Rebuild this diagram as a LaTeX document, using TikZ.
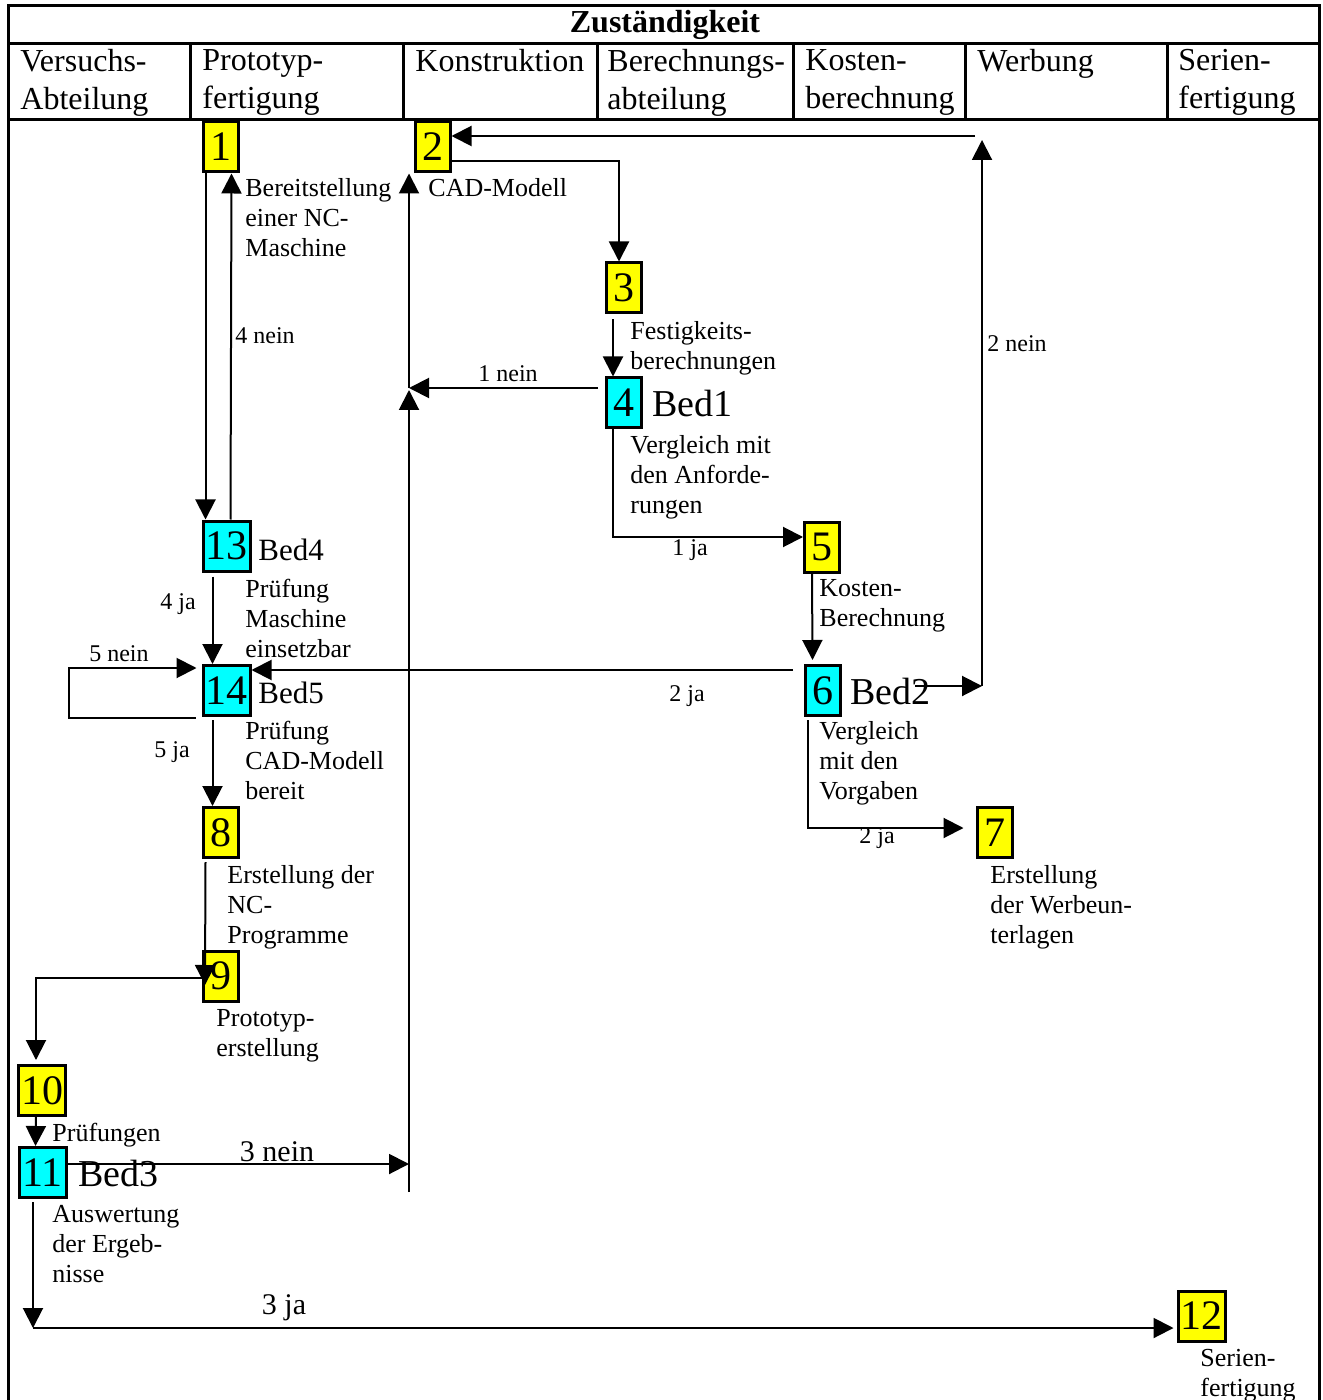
\documentclass[tikz,border=0pt]{standalone}
\usepackage{fontspec}
\setmainfont{Liberation Serif}
\usetikzlibrary{arrows.meta}
\definecolor{boxyellow}{RGB}{255,255,0}
\definecolor{boxcyan}{RGB}{0,255,255}
\begin{document}
\begin{tikzpicture}[x=0.5pt,y=-0.5pt,
    box/.style={draw,line width=1.5pt,inner sep=0pt,minimum width=17.5pt,minimum height=25pt,font=\fontsize{21}{21}\selectfont},
    act/.style={box,fill=boxyellow},
    cond/.style={box,fill=boxcyan},
    wide/.style={minimum width=23.5pt},
    desc/.style={anchor=north west,inner sep=0pt,align=left,font=\fontsize{13}{15}\selectfont},
    head/.style={anchor=north west,inner sep=0pt,align=left,font=\fontsize{16}{19}\selectfont},
    lbl/.style={inner sep=0pt,font=\fontsize{12}{14}\selectfont},
    biglbl/.style={inner sep=0pt,font=\fontsize{15}{17}\selectfont},
    bed/.style={anchor=west,inner sep=0pt,font=\fontsize{19}{19}\selectfont},
    flow/.style={line width=1pt,-{Triangle[length=10pt,width=10pt]}},
    frame/.style={line width=1.5pt}]
    \useasboundingbox (0,0) rectangle (1322,1400);
    \draw[frame] (8,1400) -- (8,6) -- (1319,6) -- (1319,1400);
    \draw[frame] (8,44) -- (1319,44);
    \draw[frame] (8,120) -- (1319,120);
    \foreach \cx in {190,403,597,793,965,1167}
        \draw[frame] (\cx,44) -- (\cx,120);
    \node[font=\fontsize{16}{19}\selectfont\bfseries] (title) at (665,25) {Zuständigkeit};
    \node[head] (h1) at (20,49) {Versuchs-\\Abteilung};
    \node[head] (h2) at (202,49) {Prototyp-\\fertigung};
    \node[head] (h3) at (415,49) {Konstruktion};
    \node[head] (h4) at (607,49) {Berechnungs-\\abteilung};
    \node[head] (h5) at (805,49) {Kosten-\\berechnung};
    \node[head] (h6) at (977,49) {Werbung};
    \node[head] (h7) at (1178,49) {Serien-\\fertigung};

    \node[act] (b1) at (220.5,147) {1};
    \node[act] (b2) at (432.5,147) {2};
    \node[act] (b3) at (624,288) {3};
    \node[cond] (b4) at (624,403) {4};
    \node[cond,wide] (b13) at (226.5,546) {13};
    \node[act] (b5) at (822,547) {5};
    \node[cond,wide] (b14) at (226.5,690.5) {14};
    \node[cond] (b6) at (822.5,690.5) {6};
    \node[act] (b8) at (220.5,832.5) {8};
    \node[act] (b7) at (994.5,832.5) {7};
    \node[act] (b9) at (220.5,976) {9};
    \node[act,wide] (b10) at (42,1090.5) {10};
    \node[cond,wide] (b11) at (42.5,1172.5) {11};
    \node[act,wide] (b12) at (1201.5,1316) {12};

    \node[bed] (bed1) at (652,404) {Bed1};
    \node[bed,font=\fontsize{15.5}{15.5}\selectfont] (bed4) at (258,550) {Bed4};
    \node[bed,font=\fontsize{15.5}{15.5}\selectfont] (bed5) at (258,693) {Bed5};
    \node[bed] (bed2) at (850,691) {Bed2};
    \node[bed] (bed3) at (78,1173) {Bed3};

    \node[desc] (d1) at (245,178) {Bereitstellung\\einer NC-\\Maschine};
    \node[desc] (d2) at (428,178) {CAD-Modell};
    \node[desc] (d3) at (630,321) {Festigkeits-\\berechnungen};
    \node[desc] (d4) at (630,435) {Vergleich mit\\den Anforde-\\rungen};
    \node[desc] (d13) at (245,579) {Prüfung\\Maschine\\einsetzbar};
    \node[desc] (d5) at (819,579) {Kosten-\\Berechnung};
    \node[desc] (d14) at (245,721) {Prüfung\\CAD-Modell\\bereit};
    \node[desc] (d6) at (819,721) {Vergleich\\mit den\\Vorgaben};
    \node[desc] (d8) at (227,865) {Erstellung der\\NC-\\Programme};
    \node[desc] (d7) at (990,865) {Erstellung\\der Werbeun-\\terlagen};
    \node[desc] (d9) at (216,1009) {Prototyp-\\erstellung};
    \node[desc] (d10) at (52,1123) {Prüfungen};
    \node[desc] (d11) at (52,1205) {Auswertung\\der Ergeb-\\nisse};
    \node[desc] (d12) at (1200,1349) {Serien-\\fertigung};

    \node[lbl,anchor=west] (l4n) at (235,336) {4 nein};
    \node[lbl] (l1n) at (508,374) {1 nein};
    \node[lbl,anchor=west] (l2n) at (987,344) {2 nein};
    \node[lbl] (l1j) at (690,550) {1 ja};
    \node[lbl] (l4j) at (178,604) {4 ja};
    \node[lbl] (l5n) at (119,654) {5 nein};
    \node[lbl] (l2ja) at (687,696) {2 ja};
    \node[lbl] (l5j) at (172,752) {5 ja};
    \node[lbl] (l2jb) at (877,838) {2 ja};
    \node[biglbl] (l3n) at (277,1152) {3 nein};
    \node[biglbl] (l3j) at (284,1308) {3 ja};

    \coordinate (n2a) at (915,686);
    \coordinate (n2b) at (982,686);
    \coordinate (n2c) at (982,140);
    \coordinate (n2d) at (975,136);
    \draw[flow] (n2a) -- (n2b);
    \draw[flow] (n2b) -- (n2c);
    \draw[flow] (n2d) -- (b2.east |- n2d);

    \coordinate (k23) at (619,161);
    \draw[flow] (b2.east |- k23) -- (k23) -- (k23 |- b3.north);
    \draw[flow] ([xshift=-5.5pt,yshift=-2.5pt]b3.south) -- ([xshift=-5.5pt]b4.north);

    \coordinate (kv) at (409,388);
    \coordinate (kbot) at (409,1192);
    \coordinate (kmid) at (409,390);
    \draw[flow] ([xshift=-3.5pt]b4.west |- kv) -- (kv);
    \draw[flow] (kbot) -- (kmid);
    \draw[flow] (kv) -- (kv |- b2.south);

    \coordinate (k45) at (613,537);
    \draw[flow] (k45 |- b4.south) -- (k45) -- (b5.west |- k45);
    \draw[flow] ([xshift=-5pt]b5.south) -- ([xshift=-5pt,yshift=2pt]b6.north);
    \coordinate (k2j) at (793,670);
    \draw[flow] (k2j) -- (b14.east |- k2j);

    \coordinate (k67) at (808,828);
    \draw[flow] ([yshift=-1.5pt]k67 |- b6.south) -- (k67) -- ([xshift=-6pt]b7.west |- k67);

    \draw[flow] ([xshift=-7.5pt]b1.south) -- ([xshift=-10.5pt]b13.north);
    \draw[flow] ([xshift=2pt]b13.north) -- ([xshift=5.5pt]b1.south);
    \draw[flow] ([xshift=-7pt,yshift=-2pt]b13.south) -- ([xshift=-7pt]b14.north);

    \coordinate (k5a) at (69,718);
    \coordinate (k5b) at (69,668);
    \draw[flow] ([xshift=-3pt]b14.west |- k5a) -- (k5a) -- (k5b) -- ([xshift=-2.5pt]b14.west |- k5b);
    \draw[flow] ([xshift=-7pt,yshift=-1.5pt]b14.south) -- ([xshift=-4pt]b8.north);

    \draw[flow] ([xshift=-7.5pt,yshift=-1.5pt]b8.south) -- (205,985);
    \coordinate (k910) at (36,978);
    \draw[flow] (205,978) -- (k910) -- ([yshift=2pt]k910 |- b10.north);
    \draw[flow] ([xshift=-3pt]b10.south) -- ([xshift=-3.5pt]b11.north);

    \coordinate (k3n) at (409,1164);
    \draw[flow] (b11.east |- k3n) -- (k3n);
    \coordinate (k3j) at (33,1328);
    \draw[flow] ([yshift=-1.5pt]k3j |- b11.south) -- (k3j);
    \draw[flow] (k3j) -- ([xshift=-1.5pt]b12.west |- k3j);
\end{tikzpicture}
\end{document}
